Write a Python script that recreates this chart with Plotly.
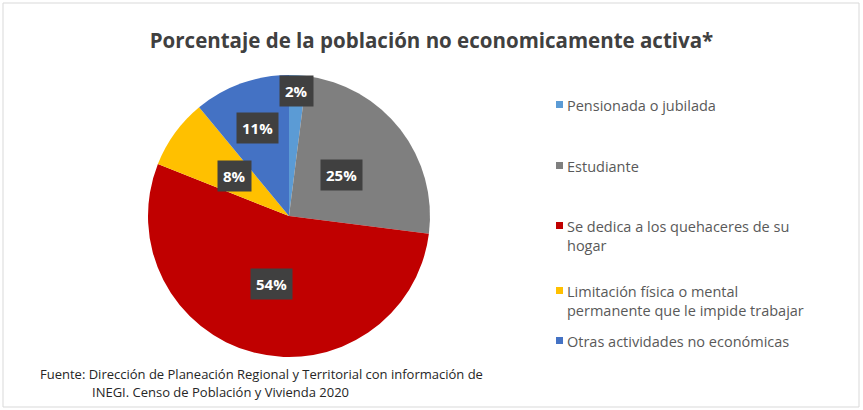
import math
import plotly.graph_objects as go

# data
labels = [
    "Pensionada o jubilada",
    "Estudiante",
    "Se dedica a los quehaceres de su<br>hogar",
    "Limitación física o mental<br>permanente que le impide trabajar",
    "Otras actividades no económicas",
]
values = [2, 25, 54, 8, 11]
colors = ["#5B9BD5", "#7F7F7F", "#C00000", "#FFC000", "#4472C4"]

title_text = "Porcentaje de la población no economicamente activa*"
source_line1 = "Fuente: Dirección de Planeación Regional y Territorial con información de"
source_line2 = "INEGI. Censo de Población y Vivienda 2020"

W, H = 863, 410


def px2x(px):
    return px / W


def py2y(py):
    return 1 - py / H


# pie geometry in pixels
cx, cy, R = 289, 216, 141
# how far out (fraction of radius) each data label sits
label_radius = [0.89, 0.47, 0.5, 0.48, 0.66]

fig = go.Figure()
fig.add_trace(go.Pie(
    labels=labels, values=values, sort=False, direction="clockwise", rotation=0,
    marker=dict(colors=colors, line=dict(width=0)),
    textinfo="none", hoverinfo="label+percent", showlegend=False,
    domain=dict(x=[px2x(cx - R), px2x(cx + R)], y=[py2y(cy + R), py2y(cy - R)]),
))

annotations = []
shapes = []

# data labels in dark boxes
total = sum(values)
cum = 0
for v, f in zip(values, label_radius):
    mid = (cum + v / 2) / total * 2 * math.pi
    cum += v
    lx = cx + f * R * math.sin(mid)
    ly = cy - f * R * math.cos(mid)
    annotations.append(dict(
        x=px2x(lx), y=py2y(ly), xref="paper", yref="paper", showarrow=False,
        xanchor="center", yanchor="middle",
        text=f"<b>{v}%</b>", font=dict(family="Open Sans", size=15, color="white"),
        bgcolor="#404040", borderpad=5,
    ))

# manual legend
legend_y = [104, 165, 225, 290, 340]
for lab, col, ly in zip(labels, colors, legend_y):
    shapes.append(dict(type="rect", xref="paper", yref="paper",
                       x0=px2x(556), x1=px2x(563), y0=py2y(ly + 4), y1=py2y(ly - 3),
                       fillcolor=col, line=dict(width=0)))
    annotations.append(dict(
        x=px2x(565), y=py2y(ly - 10), xref="paper", yref="paper", showarrow=False,
        xanchor="left", yanchor="top", align="left", text=lab,
        font=dict(family="Open Sans", size=14.5, color="#595959"),
    ))

# source note
annotations.append(dict(x=px2x(38), y=py2y(374), xref="paper", yref="paper", showarrow=False,
                        xanchor="left", yanchor="middle", text=source_line1,
                        font=dict(family="Open Sans", size=13, color="#262626")))
annotations.append(dict(x=px2x(90), y=py2y(392), xref="paper", yref="paper", showarrow=False,
                        xanchor="left", yanchor="middle", text=source_line2,
                        font=dict(family="Open Sans", size=13, color="#262626")))

# outer frame
shapes.append(dict(type="rect", xref="paper", yref="paper",
                   x0=px2x(3), x1=px2x(859), y0=py2y(407), y1=py2y(3),
                   line=dict(color="#D9D9D9", width=1)))

fig.update_layout(
    width=W, height=H, margin=dict(l=0, r=0, t=0, b=0),
    paper_bgcolor="white", plot_bgcolor="white",
    title=dict(text=f"<b>{title_text}</b>", x=0.5, xanchor="center",
               y=py2y(41), yanchor="middle",
               font=dict(family="Open Sans", size=20.5, color="#404040")),
    annotations=annotations, shapes=shapes,
)

# drop the browser's default body margin so the figure sits at the page origin
fig.write_html("out.html", config={"displayModeBar": False},
               post_script="document.body.style.margin='0px';")
